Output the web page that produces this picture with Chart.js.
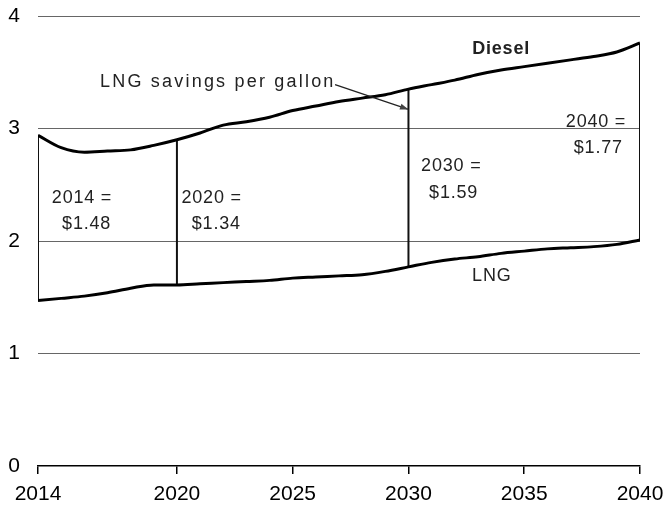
<!DOCTYPE html>
<html>
<head>
<meta charset="utf-8">
<script src="https://cdn.jsdelivr.net/npm/chart.js@4/dist/chart.umd.min.js"></script>
<style>
  html, body { margin: 0; padding: 0; background: #fff; }
  #wrap { width: 664px; height: 506px; }
</style>
</head>
<body>
<div id="wrap"><canvas id="chart" width="664" height="506"></canvas></div>
<script>
const years = [2014, 2015, 2016, 2017, 2018, 2019, 2020, 2021, 2022, 2023, 2024, 2025, 2026, 2027,
               2028, 2029, 2030, 2031, 2032, 2033, 2034, 2035, 2036, 2037, 2038, 2039, 2040];
const diesel = [2.94, 2.83, 2.79, 2.80, 2.81, 2.85, 2.90, 2.96, 3.03, 3.06, 3.10, 3.16, 3.20, 3.24,
                3.27, 3.30, 3.35, 3.39, 3.43, 3.48, 3.52, 3.55, 3.58, 3.61, 3.64, 3.68, 3.76];
const lng = [1.47, 1.49, 1.51, 1.54, 1.58, 1.61, 1.61, 1.62, 1.63, 1.64, 1.65, 1.67, 1.68, 1.69,
             1.70, 1.73, 1.77, 1.81, 1.84, 1.86, 1.89, 1.91, 1.93, 1.94, 1.95, 1.97, 2.01];
const bracketYears = [2014, 2020, 2030, 2040];
const xTicks = [2014, 2020, 2025, 2030, 2035, 2040];
const yTicks = [0, 1, 2, 3, 4];

// text notes, placed in data units
const notes = [
    { text: 'Diesel', x: 2034.0, y: 3.71, bold: true },
    { text: 'LNG', x: 2033.6, y: 1.69 },
    { text: 'LNG savings per gallon', x: 2016.68, y: 3.41, align: 'left', spacing: 2.2 },
    { text: '2014 =', x: 2015.9, y: 2.38 },
    { text: '$1.48', x: 2016.1, y: 2.15 },
    { text: '2020 =', x: 2021.5, y: 2.38 },
    { text: '$1.34', x: 2021.7, y: 2.15 },
    { text: '2030 =', x: 2031.85, y: 2.667 },
    { text: '$1.59', x: 2031.95, y: 2.427 },
    { text: '2040 =', x: 2038.1, y: 3.058 },
    { text: '$1.77', x: 2038.2, y: 2.827 }
];
const arrowFrom = [2026.83, 3.39];
const arrowTo = [2030.0, 3.17];

const font = 'Liberation Sans, Arial, sans-serif';

const bracketSets = bracketYears.map(yr => {
    const i = years.indexOf(yr);
    return {
        data: [{ x: yr, y: lng[i] }, { x: yr, y: diesel[i] }],
        borderColor: '#111',
        borderWidth: 2,
        pointRadius: 0,
        fill: false
    };
});

const notesPlugin = {
    id: 'notes',
    afterDatasetsDraw(chart) {
        const ctx = chart.ctx;
        const xs = chart.scales.x, ys = chart.scales.y;
        ctx.save();
        ctx.fillStyle = '#222';
        ctx.textBaseline = 'middle';
        notes.forEach(n => {
            ctx.font = (n.bold ? 'bold ' : '') + '18px ' + font;
            ctx.textAlign = n.align || 'center';
            ctx.letterSpacing = (n.spacing || 0.8) + 'px';
            ctx.fillText(n.text, xs.getPixelForValue(n.x), ys.getPixelForValue(n.y));
        });
        ctx.letterSpacing = '0px';
        // arrow
        const x1 = xs.getPixelForValue(arrowFrom[0]), y1 = ys.getPixelForValue(arrowFrom[1]);
        const x2 = xs.getPixelForValue(arrowTo[0]), y2 = ys.getPixelForValue(arrowTo[1]);
        ctx.strokeStyle = '#222';
        ctx.lineWidth = 1.3;
        ctx.beginPath();
        ctx.moveTo(x1, y1);
        ctx.lineTo(x2, y2);
        ctx.stroke();
        const a = Math.atan2(y2 - y1, x2 - x1);
        ctx.beginPath();
        ctx.moveTo(x2, y2);
        ctx.lineTo(x2 - 9 * Math.cos(a - 0.35), y2 - 9 * Math.sin(a - 0.35));
        ctx.lineTo(x2 - 9 * Math.cos(a + 0.35), y2 - 9 * Math.sin(a + 0.35));
        ctx.closePath();
        ctx.fillStyle = '#444';
        ctx.fill();
        ctx.restore();
    }
};

new Chart(document.getElementById('chart'), {
    type: 'line',
    data: {
        datasets: [
            {
                label: 'Diesel',
                data: years.map((y, i) => ({ x: y, y: diesel[i] })),
                borderColor: '#000',
                borderWidth: 3,
                pointRadius: 0,
                cubicInterpolationMode: 'monotone'
            },
            {
                label: 'LNG',
                data: years.map((y, i) => ({ x: y, y: lng[i] })),
                borderColor: '#000',
                borderWidth: 3,
                pointRadius: 0,
                cubicInterpolationMode: 'monotone'
            },
            ...bracketSets
        ]
    },
    options: {
        responsive: false,
        animation: false,
        layout: { padding: { top: 16, right: 24, left: 0, bottom: 0 } },
        plugins: { legend: { display: false }, tooltip: { enabled: false } },
        scales: {
            x: {
                type: 'linear',
                min: 2014,
                max: 2040,
                afterBuildTicks: s => { s.ticks = xTicks.map(v => ({ value: v })); },
                afterFit: s => { s.height = 40; s.paddingLeft = 0; s.paddingRight = 0; },
                grid: { drawOnChartArea: false, drawTicks: true, tickLength: 8, color: '#000', lineWidth: 1.5 },
                border: { display: true, color: '#000', width: 1.5 },
                ticks: {
                    color: '#000', font: { family: font, size: 21 }, padding: 8, maxRotation: 0,
                    callback: v => String(v)
                }
            },
            y: {
                min: 0,
                max: 4,
                afterBuildTicks: s => { s.ticks = yTicks.map(v => ({ value: v })); },
                afterFit: s => { s.width = 38; s.paddingTop = 0; s.paddingBottom = 0; },
                grid: {
                    drawTicks: false,
                    color: c => c.tick.value === 0 ? 'rgba(0,0,0,0)' : '#666',
                    lineWidth: 1
                },
                border: { display: false },
                ticks: { color: '#000', font: { family: font, size: 21 }, padding: 18 }
            }
        }
    },
    plugins: [notesPlugin]
});
</script>
</body>
</html>
